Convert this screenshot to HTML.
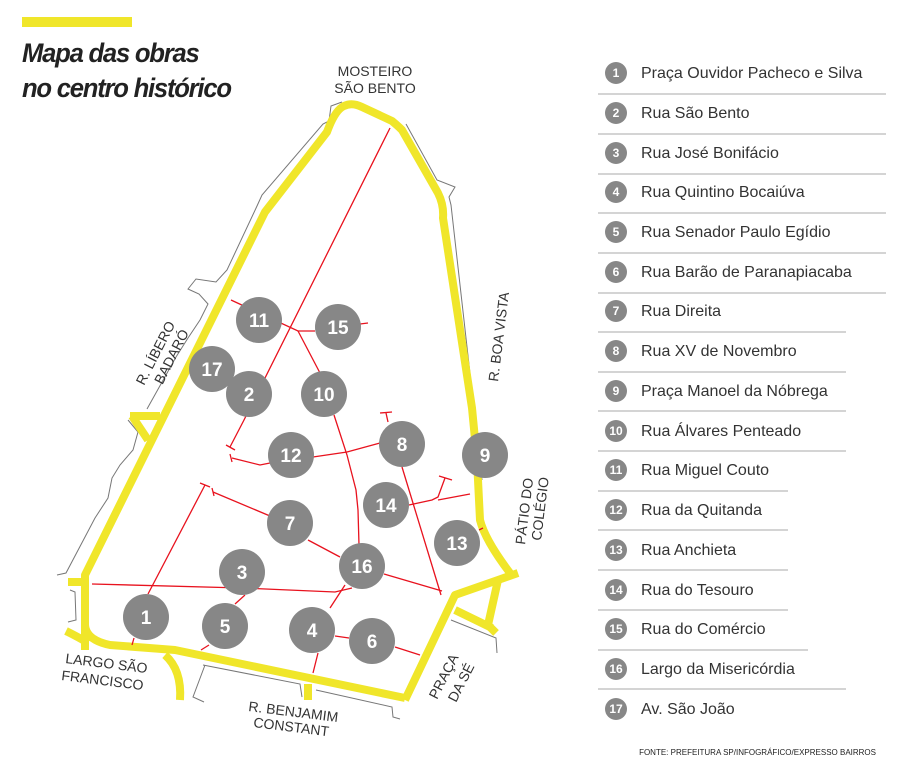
<!DOCTYPE html>
<html><head><meta charset="utf-8"><style>
body{margin:0;background:#fff;width:915px;height:777px;overflow:hidden;font-family:"Liberation Sans",sans-serif}
</style></head><body>
<svg width="915" height="777" viewBox="0 0 915 777" xmlns="http://www.w3.org/2000/svg" font-family="Liberation Sans, sans-serif">
<rect x="22" y="17" width="110" height="10" fill="#f0e62a"/>
<g transform="translate(22,0) scale(0.95,1)">
<text x="0" y="62" font-size="27" font-weight="bold" font-style="italic" fill="#222" letter-spacing="-1.3">Mapa das obras</text>
<text x="0" y="97" font-size="27" font-weight="bold" font-style="italic" fill="#222" letter-spacing="-1.3">no centro histórico</text>
</g>
<g fill="none" stroke="#777" stroke-width="1">
<polyline points="342,102 331,106 329,121 323,124 262,195 257,206 227,270 216,282 196,279 188,289 199,294 208,304 200,320 188,338 176,357 147,409"/>
<polyline points="406,124 437,180 455,187 449,197 451,205 482,480"/>
<polyline points="57,575 66,573 95,518 108,498 112,478 120,465 133,450 138,432 128,420"/>
<polyline points="70,590 75,592 76,620 68,622"/>
<polyline points="205,665 193,697 204,702"/>
<polyline points="203,665 300,684 302,697"/>
<polyline points="316,690 392,707 393,717 400,719"/>
<polyline points="451,620 496,638 497,653"/>
</g>
<g fill="none" stroke="#f0e62a" stroke-width="8" stroke-linejoin="round" stroke-linecap="butt">
<path d="M66,631 Q80,638 88,643"/>
<path d="M85,650 L85,575 L265,212 L327,132 Q335,110 344,106 Q352,102 362,107 L392,121 Q398,126 402,130 L438,193 Q444,205 443,218 L472,408 L477,460 L480,520 Q485,540 510,573"/>
<path d="M68,582 L88,582"/>
<path d="M85,625 Q86,640 110,645 L175,650 L405,698"/>
<path d="M165,655 Q182,670 180,700"/>
<path d="M308,684 L308,700"/>
<path d="M518,573 L498,580 L455,595 L405,700"/>
<path d="M498,580 L488,625 L496,633"/>
<path d="M455,610 L492,628"/>
<path d="M130,416 L160,416"/>
<path d="M132,416 L148,440"/>
</g>
<g fill="none" stroke="#e8121e" stroke-width="1.3">
<polyline points="390,128 244,420 230,447"/><path d="M226,445 L235,450"/>
<polyline points="231,300 298,331 315,331"/><polyline points="298,331 320,373"/>
<path d="M360,324 L368,323"/>
<polyline points="334,415 347,455 356,490 358,510 359,545"/>
<polyline points="232,458 260,465 270,463"/><path d="M230,454 L232,462"/>
<polyline points="313,457 347,452 380,443"/>
<polyline points="388,422 386,413"/><path d="M380,413 L392,412"/>
<polyline points="402,467 441,595"/>
<polyline points="409,505 432,500 438,497 445,478"/><path d="M439,476 L452,480"/>
<polyline points="438,500 470,494"/>
<path d="M479,530 L483,528"/>
<polyline points="213,492 270,516"/><path d="M212,488 L214,496"/>
<polyline points="148,594 205,485"/><path d="M200,483 L210,487"/>
<polyline points="308,540 340,557"/>
<polyline points="92,584 242,588 335,592 352,588"/>
<polyline points="384,574 442,591"/>
<polyline points="345,585 330,608"/>
<polyline points="245,595 235,604"/>
<polyline points="335,636 349,638"/>
<polyline points="395,647 420,655"/>
<polyline points="318,653 313,673"/>
<polyline points="209,645 201,650"/>
<polyline points="134,638 132,645"/>
</g>
<g fill="#878787">
<circle cx="146" cy="617" r="23"/><circle cx="249" cy="394" r="23"/><circle cx="242" cy="572" r="23"/>
<circle cx="312" cy="630" r="23"/><circle cx="225" cy="626" r="23"/><circle cx="372" cy="641" r="23"/>
<circle cx="290" cy="523" r="23"/><circle cx="402" cy="444" r="23"/><circle cx="485" cy="455" r="23"/>
<circle cx="324" cy="394" r="23"/><circle cx="259" cy="320" r="23"/><circle cx="291" cy="455" r="23"/>
<circle cx="457" cy="543" r="23"/><circle cx="386" cy="505" r="23"/><circle cx="338" cy="327" r="23"/>
<circle cx="362" cy="566" r="23"/><circle cx="212" cy="369" r="23"/>
</g>
<g fill="#fff" font-size="19" font-weight="bold" text-anchor="middle">
<text x="146" y="624">1</text><text x="249" y="401">2</text><text x="242" y="579">3</text>
<text x="312" y="637">4</text><text x="225" y="633">5</text><text x="372" y="648">6</text>
<text x="290" y="530">7</text><text x="402" y="451">8</text><text x="485" y="462">9</text>
<text x="324" y="401">10</text><text x="259" y="327">11</text><text x="291" y="462">12</text>
<text x="457" y="550">13</text><text x="386" y="512">14</text><text x="338" y="334">15</text>
<text x="362" y="573">16</text><text x="212" y="376">17</text>
</g>
<g fill="#333" font-size="14">
<text x="375" y="76" text-anchor="middle">MOSTEIRO</text>
<text x="375" y="93" text-anchor="middle">SÃO BENTO</text>
<g transform="translate(144,386) rotate(-63)">
<text x="0" y="0">R. LÍBERO</text>
<text x="9" y="16">BADARÓ</text>
</g>
<text transform="translate(498,382) rotate(-83)">R. BOA VISTA</text>
<text transform="translate(525,545) rotate(-83)">PÁTIO DO</text>
<text transform="translate(541,541) rotate(-83)">COLÉGIO</text>
<text transform="translate(65,663) rotate(7)">LARGO SÃO</text>
<text transform="translate(61,680) rotate(7)">FRANCISCO</text>
<text transform="translate(248,711) rotate(7)">R. BENJAMIM</text>
<text transform="translate(253,727) rotate(7)">CONSTANT</text>
<text transform="translate(437,700) rotate(-63)">PRAÇA</text>
<text transform="translate(456,703) rotate(-63)">DA SÉ</text>
</g>
<g stroke="#aaa" stroke-width="1">
<path d="M598,94H886M598,134H886M598,174H886M598,213H886M598,253H886M598,293H886M598,332H846M598,372H846M598,411H846M598,451H846M598,491H788M598,530H788M598,570H788M598,610H788M598,650H808M598,689H846"/>
</g>
<g fill="#878787">
<circle cx="616" cy="73" r="11"/><circle cx="616" cy="113" r="11"/><circle cx="616" cy="153" r="11"/><circle cx="616" cy="192" r="11"/>
<circle cx="616" cy="232" r="11"/><circle cx="616" cy="272" r="11"/><circle cx="616" cy="311" r="11"/><circle cx="616" cy="351" r="11"/>
<circle cx="616" cy="391" r="11"/><circle cx="616" cy="431" r="11"/><circle cx="616" cy="470" r="11"/><circle cx="616" cy="510" r="11"/>
<circle cx="616" cy="550" r="11"/><circle cx="616" cy="590" r="11"/><circle cx="616" cy="629" r="11"/><circle cx="616" cy="669" r="11"/>
<circle cx="616" cy="709" r="11"/>
</g>
<g fill="#fff" font-size="12" font-weight="bold" text-anchor="middle">
<text x="616" y="77">1</text><text x="616" y="117">2</text><text x="616" y="157">3</text><text x="616" y="196">4</text>
<text x="616" y="236">5</text><text x="616" y="276">6</text><text x="616" y="315">7</text><text x="616" y="355">8</text>
<text x="616" y="395">9</text><text x="616" y="435">10</text><text x="616" y="474">11</text><text x="616" y="514">12</text>
<text x="616" y="554">13</text><text x="616" y="594">14</text><text x="616" y="633">15</text><text x="616" y="673">16</text>
<text x="616" y="713">17</text>
</g>
<g fill="#333" font-size="16">
<text x="641" y="78">Praça Ouvidor Pacheco e Silva</text>
<text x="641" y="118">Rua São Bento</text>
<text x="641" y="158">Rua José Bonifácio</text>
<text x="641" y="197">Rua Quintino Bocaiúva</text>
<text x="641" y="237">Rua Senador Paulo Egídio</text>
<text x="641" y="277">Rua Barão de Paranapiacaba</text>
<text x="641" y="316">Rua Direita</text>
<text x="641" y="356">Rua XV de Novembro</text>
<text x="641" y="396">Praça Manoel da Nóbrega</text>
<text x="641" y="436">Rua Álvares Penteado</text>
<text x="641" y="475">Rua Miguel Couto</text>
<text x="641" y="515">Rua da Quitanda</text>
<text x="641" y="555">Rua Anchieta</text>
<text x="641" y="595">Rua do Tesouro</text>
<text x="641" y="634">Rua do Comércio</text>
<text x="641" y="674">Largo da Misericórdia</text>
<text x="641" y="714">Av. São João</text>
</g>
<text x="876" y="755" text-anchor="end" font-size="8" fill="#222">FONTE: PREFEITURA SP/INFOGRÁFICO/EXPRESSO BAIRROS</text>
</svg>
</body></html>
